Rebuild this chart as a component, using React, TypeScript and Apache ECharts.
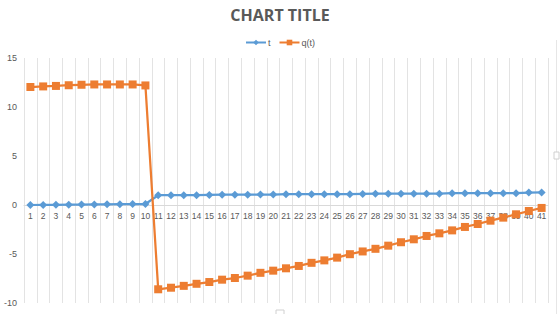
import React, { useEffect, useRef } from "react";
import * as echarts from "echarts";

const categories = Array.from({ length: 41 }, (_, i) => String(i + 1));
const tValues = [
  0.0, 0.01, 0.02, 0.03, 0.04, 0.06, 0.07, 0.08, 0.09, 0.1,
  1.0, 1.0, 1.0, 1.0, 1.03, 1.05, 1.05, 1.05, 1.06, 1.06,
  1.1, 1.1, 1.1, 1.1, 1.1, 1.1, 1.13, 1.15, 1.15, 1.15,
  1.15, 1.15, 1.15, 1.2, 1.2, 1.2, 1.2, 1.2, 1.2, 1.27, 1.28,
];
const qValues = [
  12.04, 12.1, 12.15, 12.22, 12.27, 12.3, 12.3, 12.3, 12.3, 12.2,
  -8.6, -8.44, -8.25, -8.04, -7.86, -7.62, -7.45, -7.21, -6.92, -6.7,
  -6.46, -6.22, -5.9, -5.65, -5.37, -5.02, -4.74, -4.47, -4.15, -3.8,
  -3.5, -3.16, -2.89, -2.59, -2.24, -1.94, -1.6, -1.29, -0.95, -0.61, -0.3,
];
const yTicks = { min: -10, max: 15, interval: 5 };

export default function App() {
  const ref = useRef<HTMLDivElement>(null);
  useEffect(() => {
    const chart = echarts.init(ref.current!, null, { renderer: "svg" });
    chart.setOption({
      animation: false,
      backgroundColor: "#ffffff",
      title: {
        text: "CHART TITLE",
        left: "center",
        top: 2,
        textStyle: { fontFamily: "Open Sans", fontSize: 16, fontWeight: "bold", color: "#595959" },
      },
      legend: {
        top: 33,
        left: "center",
        itemWidth: 20,
        itemHeight: 7,
        itemGap: 8,
        textStyle: { fontFamily: "Liberation Sans", fontSize: 9, color: "#595959", padding: [0, 0, 0, -3] },
        data: ["t", "q(t)"],
      },
      grid: [
        { left: 24, right: 12, top: 58, bottom: 11, containLabel: false },
        { left: 24, right: 12, top: 58, bottom: 109, containLabel: false },
      ],
      xAxis: [
        {
          type: "category",
          gridIndex: 0,
          data: categories,
          boundaryGap: true,
          axisLine: { show: false },
          axisTick: { show: false },
          axisLabel: { show: false },
          splitLine: { show: true, interval: 0, lineStyle: { color: "#e3e3e3", width: 1 } },
        },
        {
          type: "category",
          gridIndex: 1,
          data: categories,
          boundaryGap: true,
          axisLine: { show: true, onZero: false, lineStyle: { color: "#d9d9d9", width: 1 } },
          axisTick: { show: false },
          axisLabel: { interval: 0, fontFamily: "Liberation Sans", fontSize: 8.5, color: "#595959", margin: 6 },
          splitLine: { show: false },
        },
      ],
      yAxis: [
        {
          type: "value",
          gridIndex: 0,
          min: yTicks.min,
          max: yTicks.max,
          interval: yTicks.interval,
          axisLine: { show: false },
          axisTick: { show: false },
          splitLine: { show: false },
          axisLabel: { fontFamily: "Liberation Sans", fontSize: 9, color: "#595959", margin: 7 },
        },
        {
          type: "value",
          gridIndex: 1,
          min: 0,
          max: 1,
          show: false,
        },
      ],
      graphic: [
        { type: "line", shape: { x1: 556.5, y1: 40, x2: 556.5, y2: 314 }, style: { stroke: "#e6e6e6", lineWidth: 1 } },
        { type: "rect", shape: { x: 554, y: 152, width: 5, height: 7 }, style: { fill: "#ffffff", stroke: "#d0d0d0", lineWidth: 1 } },
        { type: "rect", shape: { x: 276, y: 310, width: 8, height: 5 }, style: { fill: "#ffffff", stroke: "#d0d0d0", lineWidth: 1 } },
      ],
      series: [
        {
          name: "t",
          type: "line",
          xAxisIndex: 0,
          yAxisIndex: 0,
          data: tValues,
          symbol: "diamond",
          symbolSize: 8,
          itemStyle: { color: "#5B9BD5" },
          lineStyle: { color: "#5B9BD5", width: 2.25 },
        },
        {
          name: "q(t)",
          type: "line",
          xAxisIndex: 0,
          yAxisIndex: 0,
          data: qValues,
          symbol: "rect",
          symbolSize: 8,
          itemStyle: { color: "#ED7D31" },
          lineStyle: { color: "#ED7D31", width: 2.25 },
        },
      ],
    });
    return () => chart.dispose();
  }, []);
  return <div ref={ref} style={{ position: "absolute", left: 0, top: 0, width: 560, height: 314 }} />;
}
